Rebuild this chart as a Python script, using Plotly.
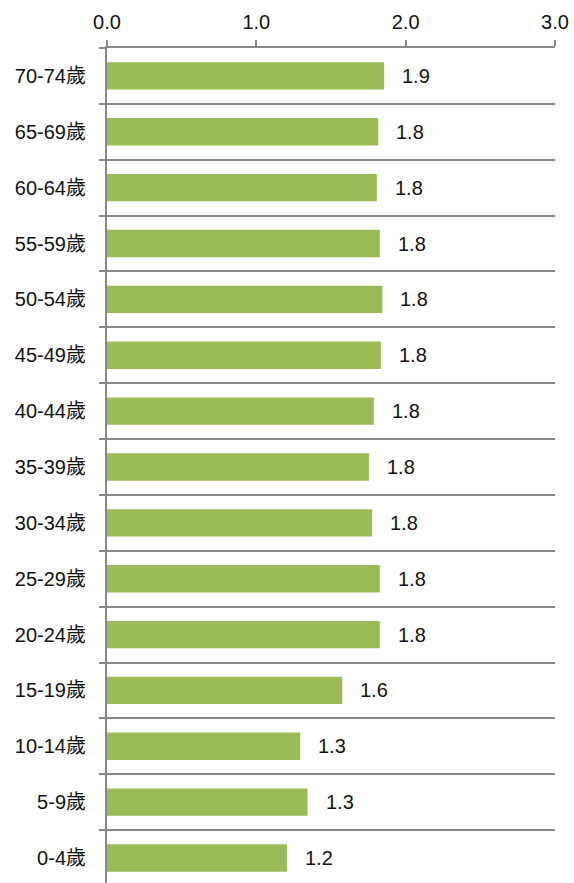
import plotly.graph_objects as go

categories = ["0-4歲", "5-9歲", "10-14歲", "15-19歲", "20-24歲", "25-29歲", "30-34歲",
              "35-39歲", "40-44歲", "45-49歲", "50-54歲", "55-59歲", "60-64歲", "65-69歲", "70-74歲"]
values = [1.205, 1.343, 1.294, 1.575, 1.827, 1.827, 1.776, 1.755, 1.787, 1.834, 1.844,
          1.827, 1.807, 1.816, 1.856]
x_ticks = [0, 1, 2, 3]
x_ticklabels = ["0.0", "1.0", "2.0", "3.0"]

positions = list(range(len(categories)))
FONT = "Arial, Liberation Sans, Noto Sans CJK TC, sans-serif"
GRAY = "#888888"
FS = 20

fig = go.Figure()
fig.add_trace(go.Bar(
    x=values, y=positions, orientation="h",
    width=0.49,
    marker=dict(color="#9BBB59", line=dict(width=0)),
    hoverinfo="skip",
))

annotations = []
for p, v in zip(positions, values):
    annotations.append(dict(
        x=v, y=p, xref="x", yref="y", text=f"{v:.1f}", showarrow=False,
        xanchor="left", yanchor="middle", xshift=16,
        font=dict(family=FONT, size=FS, color="#111111"),
    ))

fig.update_layout(
    width=574, height=883,
    margin=dict(l=107, r=19, t=48, b=0, autoexpand=False),
    paper_bgcolor="white", plot_bgcolor="white",
    showlegend=False,
    annotations=annotations,
    font=dict(family=FONT, size=FS, color="#111111"),
    xaxis=dict(
        side="top", range=[0, 3], tickvals=x_ticks, ticktext=x_ticklabels,
        ticks="outside", ticklen=6, tickcolor=GRAY, tickwidth=2,
        showline=True, linecolor=GRAY, linewidth=2,
        showgrid=False, zeroline=False, automargin=False,
        tickfont=dict(family=FONT, size=FS, color="#111111"),
        ticklabelstandoff=3,
        fixedrange=True,
    ),
    yaxis=dict(
        range=[-0.447, 14.5], tickvals=positions, ticktext=categories,
        ticks="", showgrid=False, zeroline=False, automargin=False,
        showline=True, linecolor=GRAY, linewidth=2,
        tickfont=dict(family=FONT, size=FS, color="#111111"),
        ticklabelstandoff=15,
        minor=dict(tick0=0.5, dtick=1, ticks="outside", ticklen=6, tickcolor=GRAY,
                   tickwidth=2, showgrid=True, gridcolor=GRAY, gridwidth=2),
        fixedrange=True,
    ),
)

fig.write_html(
    "out.html",
    config={"displayModeBar": False},
    post_script="document.body.style.margin='0';document.body.style.padding='0';",
)
